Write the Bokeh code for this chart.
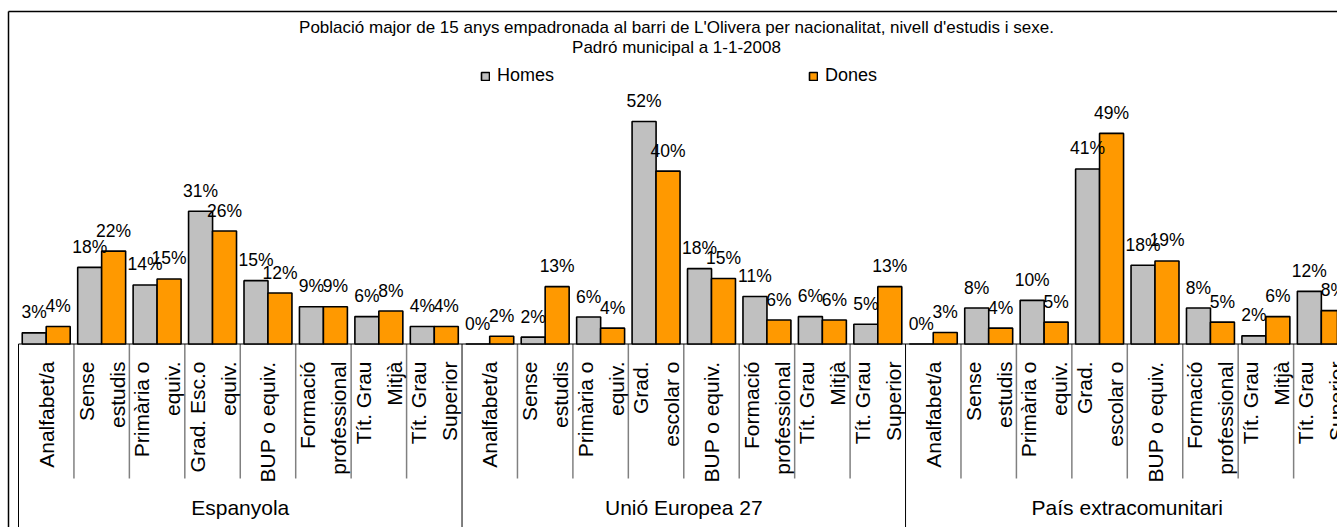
from bokeh.plotting import figure
from bokeh.models import Range1d, ColumnDataSource, Legend, LegendItem
from bokeh.core.properties import value
from bokeh.embed import file_html
from bokeh.resources import INLINE

# ---------------- data ----------------
title_lines = ["Població major de 15 anys empadronada al barri de L'Olivera per nacionalitat, nivell d'estudis i sexe.",
               "Padró municipal a 1-1-2008"]
series_names = ["Homes", "Dones"]
groups = ["Espanyola", "Unió Europea 27", "País extracomunitari"]
cats_esp = ["Analfabet/a", "Sense\nestudis", "Primària o\nequiv.", "Grad. Esc.o\nequiv.",
            "BUP o equiv.", "Formació\nprofessional", "Tít. Grau\nMitjà", "Tít. Grau\nSuperior"]
cats_ue = ["Analfabet/a", "Sense\nestudis", "Primària o\nequiv.", "Grad.\nescolar o",
           "BUP o equiv.", "Formació\nprofessional", "Tít. Grau\nMitjà", "Tít. Grau\nSuperior"]
cats_ext = ["Analfabet/a", "Sense\nestudis", "Primària o\nequiv.", "Grad.\nescolar o",
            "BUP o equiv.", "Formació\nprofessional", "Tít. Grau\nMitjà", "Tít. Grau\nSuperior"]
homes_esp = [2.6, 17.9, 13.8, 31.0, 14.8, 8.7, 6.4, 4.1]
dones_esp = [4.1, 21.7, 15.2, 26.4, 11.9, 8.7, 7.7, 4.1]
homes_ue = [0.0, 1.6, 6.3, 52.0, 17.6, 11.1, 6.4, 4.6]
dones_ue = [1.8, 13.4, 3.7, 40.4, 15.3, 5.6, 5.6, 13.4]
homes_ext = [0.0, 8.4, 10.2, 40.9, 18.4, 8.4, 1.9, 12.3]
dones_ext = [2.7, 3.7, 5.1, 49.2, 19.4, 5.1, 6.4, 7.8]

# ---------------- layout constants ----------------
W, H = 1337, 527
X0 = 18.0      # px where first category starts
CW = 55.44     # px per category
BASE = 343.5   # px of the zero line
K = 4.28       # px per percent
FONT = value("Liberation Sans")
GRAY = "#C0C0C0"
ORANGE = "#FF9900"
TXT = "#000000"

def px_x(px):
    return (px - X0) / CW

def px_y(py):
    return (BASE - py) / K

cats_all = [cats_esp, cats_ue, cats_ext]
homes_all = [homes_esp, homes_ue, homes_ext]
dones_all = [dones_esp, dones_ue, dones_ext]

xs, labels, hv, dv = [], [], [], []
i = 0
for g, cats in enumerate(cats_all):
    for j, c in enumerate(cats):
        xs.append(i + 0.5)
        labels.append(c)
        hv.append(homes_all[g][j])
        dv.append(dones_all[g][j])
        i += 1
ncat = i
per_group = [len(c) for c in cats_all]

off = 0.216
bw = 0.433
lab_off = 20.5 / K
src = ColumnDataSource(dict(
    xh=[x - off for x in xs], xd=[x + off for x in xs],
    h=hv, d=dv,
    hl=[f"{int(v + 0.5)}%" for v in hv], dl=[f"{int(v + 0.5)}%" for v in dv],
    hy=[v + lab_off for v in hv], dy=[v + lab_off for v in dv],
    xc=xs, lab=labels, laby=[px_y(361)] * ncat,
))

p = figure(width=W, height=H,
           x_range=Range1d(px_x(0), px_x(W)), y_range=Range1d(px_y(H), px_y(0)),
           output_backend="svg", toolbar_location=None, min_border=0,
           x_axis_location=None, y_axis_location=None)
p.grid.visible = False
p.outline_line_color = None
p.background_fill_color = "white"

# border (top and left)
p.segment(x0=[px_x(8)], y0=[px_y(11)], x1=[px_x(W)], y1=[px_y(11)], line_color="black", line_width=1.5)
p.segment(x0=[px_x(8)], y0=[px_y(11)], x1=[px_x(8)], y1=[px_y(H)], line_color="black", line_width=1.5)

# category separators (gray, short) and group separators (black, full)
bounds = [0]
for n in per_group:
    bounds.append(bounds[-1] + n)
sep_x = [k for k in range(ncat + 1) if k not in bounds]
p.segment(x0=sep_x, y0=[0] * len(sep_x), x1=sep_x, y1=[px_y(478)] * len(sep_x),
          line_color="#808080", line_width=1.5)
p.segment(x0=bounds, y0=[0] * len(bounds), x1=bounds, y1=[px_y(H)] * len(bounds),
          line_color="black", line_width=1)
# zero line
p.segment(x0=[0], y0=[0], x1=[ncat], y1=[0], line_color="black", line_width=1)

# bars
rh = p.vbar(x="xh", top="h", bottom=0, width=bw, source=src, fill_color=GRAY, line_color="black", line_width=1.6)
rd = p.vbar(x="xd", top="d", bottom=0, width=bw, source=src, fill_color=ORANGE, line_color="black", line_width=1.6)

# value labels
for xcol, ycol, tcol in (("xh", "hy", "hl"), ("xd", "dy", "dl")):
    p.text(x=xcol, y=ycol, text=tcol, source=src, text_font=FONT, text_font_size="17.5px",
           text_align="center", text_baseline="middle", text_color=TXT)

# category labels (vertical)
p.text(x="xc", y="laby", text="lab", source=src, angle=1.5707963, text_font=FONT,
       text_font_size="21px", text_align="right", text_baseline="middle",
       text_line_height=1.35, text_color=TXT)

# group labels
gx = [(bounds[k] + bounds[k + 1]) / 2 for k in range(len(groups))]
p.text(x=gx, y=[px_y(507)] * len(groups), text=groups, text_font=FONT, text_font_size="21px",
       text_align="center", text_baseline="middle", text_color=TXT)

# title
p.text(x=[px_x(676)] * 2, y=[px_y(27), px_y(47)], text=title_lines, text_font=FONT,
       text_font_size="17px", text_align="center", text_baseline="middle", text_color=TXT)

# legend
for r, name, lx in ((rh, series_names[0], 480), (rd, series_names[1], 808)):
    lg = Legend(items=[LegendItem(label=name, renderers=[r])], location=(lx, H - 86),
                orientation="horizontal", glyph_width=10, glyph_height=10, label_standoff=7,
                padding=0, margin=0, spacing=0, border_line_color=None, background_fill_alpha=0,
                label_text_font="Liberation Sans", label_text_font_size="18px", label_text_color=TXT)
    p.add_layout(lg)

open("out.html", "w").write(file_html(p, INLINE))
